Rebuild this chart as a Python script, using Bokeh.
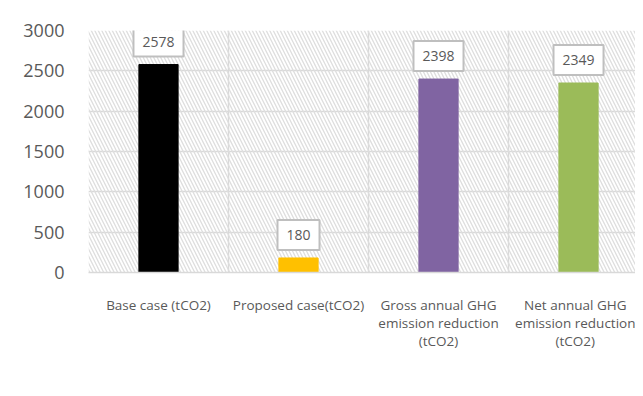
from bokeh.plotting import figure
from bokeh.models import (ColumnDataSource, Range1d, FixedTicker, Label,
                          BoxAnnotation)
from bokeh.embed import file_html
from bokeh.resources import INLINE

categories = ["Base case (tCO2)", "Proposed case(tCO2)",
              "Gross annual GHG\nemission reduction\n(tCO2)",
              "Net annual GHG\nemission reduction\n(tCO2)"]
values = [2578, 180, 2398, 2349]
colors = ["#000000", "#FFC000", "#8064A2", "#9BBB59"]
y_ticks = [0, 500, 1000, 1500, 2000, 2500, 3000]

xs = [i + 0.5 for i in range(len(categories))]
src = ColumnDataSource(dict(x=xs, top=values, color=colors))

p = figure(width=635, height=380, output_backend="svg", toolbar_location=None,
           x_range=Range1d(0, 3.907), y_range=Range1d(0, 3000),
           min_border_left=88, min_border_right=0, min_border_top=30,
           min_border_bottom=108)

p.background_fill_color = "white"
p.border_fill_color = "white"
p.outline_line_color = None

hatch = BoxAnnotation(fill_alpha=0, line_alpha=0, hatch_pattern="\\",
                      hatch_color="#dedede", hatch_scale=7, hatch_weight=1.3,
                      level="underlay")
p.add_layout(hatch)

p.vbar(x="x", top="top", width=0.28, color="color", source=src)

p.xgrid.ticker = FixedTicker(ticks=list(range(len(categories) + 1)))
p.ygrid.ticker = FixedTicker(ticks=y_ticks)
for g in (p.xgrid, p.ygrid):
    g.grid_line_color = "#d9d9d9"
    g.grid_line_width = 1.5

p.xaxis.ticker = FixedTicker(ticks=xs)
p.xaxis.major_label_overrides = {x: c for x, c in zip(xs, categories)}
p.xaxis.axis_line_color = "#d9d9d9"
p.xaxis.axis_line_width = 1.5
p.xaxis.major_tick_line_color = None
p.xaxis.minor_tick_line_color = None
p.xaxis.major_label_text_font = "Open Sans"
p.xaxis.major_label_text_font_size = "13.5px"
p.xaxis.major_label_text_color = "#595959"
p.xaxis.major_label_text_line_height = 1.0
p.xaxis.major_label_standoff = 17

p.yaxis.ticker = FixedTicker(ticks=y_ticks)
p.yaxis.axis_line_color = None
p.yaxis.major_tick_line_color = None
p.yaxis.minor_tick_line_color = None
p.yaxis.major_label_text_font = "Open Sans"
p.yaxis.major_label_text_font_size = "18px"
p.yaxis.major_label_text_color = "#595959"
p.yaxis.major_label_standoff = 18

for x, v in zip(xs, values):
    p.add_layout(Label(x=x, y=v, text=str(v), text_align="center",
                       text_baseline="bottom", y_offset=8,
                       text_font="Open Sans", text_font_size="14px",
                       text_color="#595959",
                       background_fill_color="white",
                       border_line_color="#bfbfbf", border_line_width=2,
                       padding=(9, 10)))

open("out.html", "w").write(file_html(p, INLINE))
